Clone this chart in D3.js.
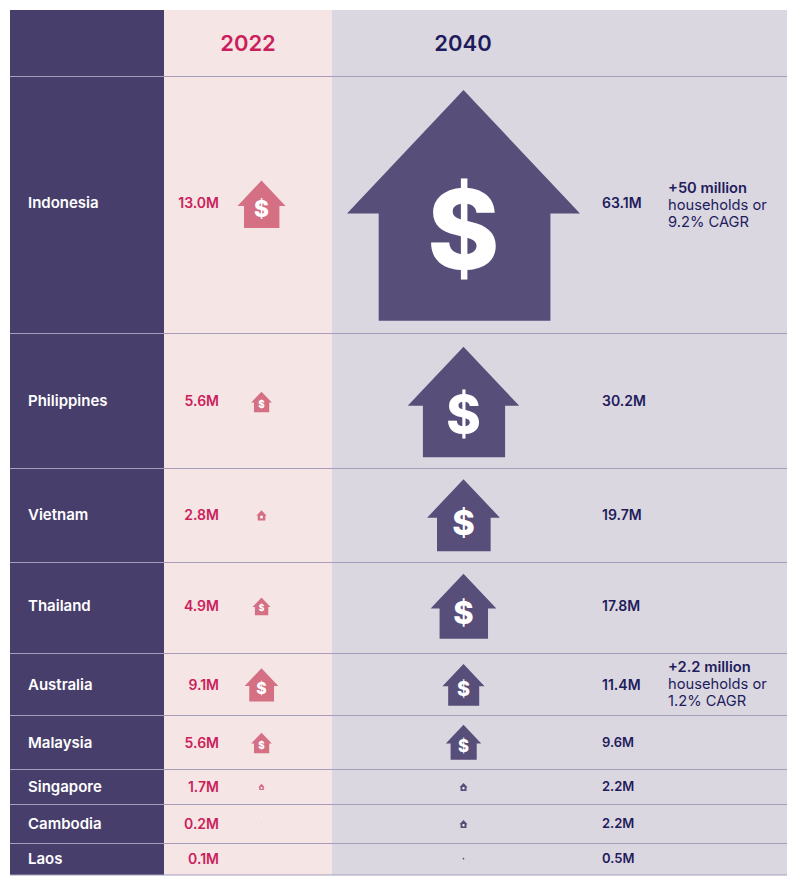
<!DOCTYPE html>
<html lang="en">
<head>
<meta charset="UTF-8">
<title>Households 2022 vs 2040</title>
<style>
    html, body { margin: 0; background: #fff; }
    svg { display: block; font-family: Inter, "Noto Sans", sans-serif; }
</style>
<script src="https://d3js.org/d3.v7.min.js"></script>
</head>
<body>
<svg id="chart" width="800" height="884"></svg>
<script>
const countries = ["Indonesia", "Philippines", "Vietnam", "Thailand", "Australia", "Malaysia", "Singapore", "Cambodia", "Laos"];
const values2022 = [13.0, 5.6, 2.8, 4.9, 9.1, 5.6, 1.7, 0.2, 0.1];
const values2040 = [63.1, 30.2, 19.7, 17.8, 11.4, 9.6, 2.2, 2.2, 0.5];
const years = ["2022", "2040"];
const notes = [
    { country: "Indonesia", head: "+50 million", lines: ["households or", "9.2% CAGR"] },
    { country: "Australia", head: "+2.2 million", lines: ["households or", "1.2% CAGR"] }
];

// layout
const tableLeft = 10, tableRight = 787, tableTop = 10, tableBottom = 875;
const col1 = 164, col2 = 332;
const headerBottom = 76.5;
const rowLines = [333.5, 468.5, 562.5, 653.5, 715.5, 769.5, 804.5, 843.5, 875];
const iconCentres2022 = [204.5, 402, 515.5, 606.5, 685, 743, 787, 823.5, 858.5];
const iconCentres2040 = [206.5, 402.5, 515.5, 606.5, 685, 742.5, 787, 824, 858.5];
const labelCentres = [203, 401, 514.5, 605.5, 684.5, 742.5, 786.5, 823.5, 858.5];
const noteCentres = [205, 684];

const svg = d3.select("#chart");

const iconSize = d3.scaleLinear().domain([0, 63.1]).range([0, 233]);
const iconY2022 = d3.scaleOrdinal().domain(countries).range(iconCentres2022);
const iconY2040 = d3.scaleOrdinal().domain(countries).range(iconCentres2040);
const labelY = d3.scaleOrdinal().domain(countries).range(labelCentres);

// backgrounds
svg.append("rect").attr("x", tableLeft).attr("y", tableTop).attr("width", col1 - tableLeft).attr("height", tableBottom - tableTop).attr("fill", "#483e6c");
svg.append("rect").attr("x", col1).attr("y", tableTop).attr("width", col2 - col1).attr("height", tableBottom - tableTop).attr("fill", "#f5e5e5");
svg.append("rect").attr("x", col2).attr("y", tableTop).attr("width", tableRight - col2).attr("height", tableBottom - tableTop).attr("fill", "#dad7e1");

// row rules
svg.selectAll(".rule")
    .data([headerBottom].concat(rowLines))
    .enter().append("line")
    .attr("class", "rule")
    .attr("x1", tableLeft).attr("x2", tableRight)
    .attr("y1", d => d).attr("y2", d => d)
    .attr("stroke", "#a59db9")
    .attr("stroke-width", 1);

// headers
svg.selectAll(".year")
    .data(years)
    .enter().append("text")
    .attr("class", "year")
    .attr("x", (d, i) => i === 0 ? 248 : 463)
    .attr("y", 43)
    .attr("dy", "0.36em")
    .attr("text-anchor", "middle")
    .attr("font-size", 22)
    .attr("font-weight", 600)
    .attr("fill", (d, i) => i === 0 ? "#cb1f5c" : "#1f1c5c")
    .text(d => d);

// country names
svg.selectAll(".name")
    .data(countries)
    .enter().append("text")
    .attr("class", "name")
    .attr("x", 28)
    .attr("y", d => labelY(d))
    .attr("dy", "0.36em")
    .attr("font-size", 15)
    .attr("font-weight", 600)
    .attr("fill", "#fff")
    .text(d => d);

// house outline in a 0..1 box
const house = d3.line()([[0.5, 0], [1, 0.53], [0.873, 0.53], [0.873, 0.99], [0.136, 0.99], [0.136, 0.53], [0, 0.53]]) + "Z";

function drawHouses(values, cx, yScale, fill) {
    const g = svg.append("g").selectAll("g")
        .data(values)
        .enter().append("g")
        .attr("transform", (d, i) => {
            const s = iconSize(d);
            return `translate(${cx - s / 2},${yScale(countries[i]) - s / 2})`;
        });

    g.append("path")
        .attr("d", house)
        .attr("transform", d => `scale(${iconSize(d)})`)
        .attr("fill", fill);

    g.filter(d => iconSize(d) >= 14).append("text")
        .attr("x", d => iconSize(d) * 0.5)
        .attr("y", d => iconSize(d) * 0.6)
        .attr("dy", "0.36em")
        .attr("text-anchor", "middle")
        .attr("font-size", d => iconSize(d) * 0.47)
        .attr("font-weight", 800)
        .attr("fill", "#fff")
        .text("$");

    // the smallest houses only show a white speck for the sign
    g.filter(d => iconSize(d) >= 5 && iconSize(d) < 14).append("rect")
        .attr("x", d => iconSize(d) * 0.38)
        .attr("y", d => iconSize(d) * 0.52)
        .attr("width", d => iconSize(d) * 0.24)
        .attr("height", d => iconSize(d) * 0.26)
        .attr("fill", "#fff");
}

drawHouses(values2022, 261.5, iconY2022, "#d56f84");
drawHouses(values2040, 463.5, iconY2040, "#584e7a");

// values
svg.selectAll(".v22")
    .data(values2022)
    .enter().append("text")
    .attr("class", "v22")
    .attr("x", 219)
    .attr("y", (d, i) => labelY(countries[i]))
    .attr("dy", "0.36em")
    .attr("text-anchor", "end")
    .attr("font-size", 14)
    .attr("font-weight", 600)
    .attr("fill", "#cb1f5c")
    .text(d => d.toFixed(1) + "M");

svg.selectAll(".v40")
    .data(values2040)
    .enter().append("text")
    .attr("class", "v40")
    .attr("x", 602)
    .attr("y", (d, i) => labelY(countries[i]))
    .attr("dy", "0.36em")
    .attr("font-size", d => d < 10 ? 13 : 14)
    .attr("font-weight", 600)
    .attr("fill", "#1f1c5c")
    .text(d => d.toFixed(1) + "M");

// side notes
const note = svg.selectAll(".note")
    .data(notes)
    .enter().append("text")
    .attr("class", "note")
    .attr("font-size", 14.7)
    .attr("fill", "#1f1c5c");

note.append("tspan")
    .attr("x", 668)
    .attr("y", (d, i) => noteCentres[i] - 17)
    .attr("dy", "0.36em")
    .attr("font-weight", 600)
    .text(d => d.head);

note.each(function (d, n) {
    d3.select(this).selectAll(".l")
        .data(d.lines)
        .enter().append("tspan")
        .attr("class", "l")
        .attr("x", 668)
        .attr("y", (l, i) => noteCentres[n] + i * 16.5)
        .attr("dy", "0.36em")
        .text(l => l);
});
</script>
</body>
</html>
